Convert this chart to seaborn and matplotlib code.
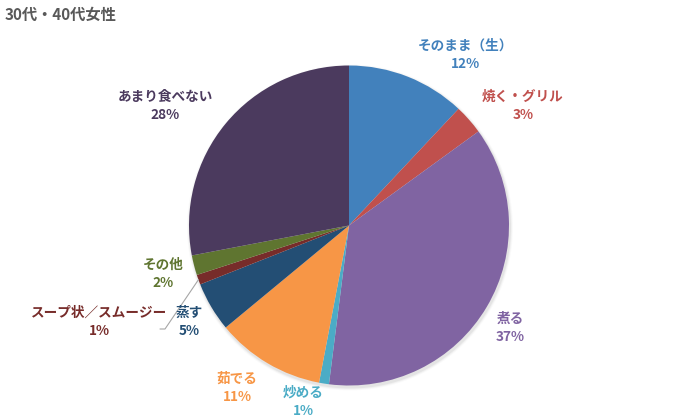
import numpy as np
import matplotlib
matplotlib.use("Agg")
import matplotlib.pyplot as plt
import seaborn as sns

# ---- data ----
categories = ["そのまま（生）", "焼く・グリル", "煮る", "炒める", "茹でる", "蒸す",
              "スープ状／スムージー", "その他", "あまり食べない"]
values = [12, 3, 37, 1, 11, 5, 1, 2, 28]
title = "30代・40代女性"

# ---- styles / layout ----
sns.set_theme(style="white")
plt.rcParams['font.family'] = ['Noto Sans CJK JP', 'DejaVu Sans']
colors = sns.color_palette(["#4281BC", "#C0504D", "#8064A2", "#4BACC6", "#F79646",
                            "#234E74", "#772C2A", "#5F7530", "#4B3A5E"])
text_colors = colors
# label centres in pixel coordinates (x, y from top)
label_pos = [(465, 55), (523, 106), (510, 328), (303, 402), (237, 388),
             (189, 322), (99, 322), (163, 274), (165, 106)]

W, H = 700, 420
fig = plt.figure(figsize=(7, 4.2), dpi=100)
ax = fig.add_axes([0, 0, 1, 1])
ax.set_xlim(0, W)
ax.set_ylim(0, H)
ax.set_aspect('equal')
ax.axis('off')

cx, cy, R = 349, H - 225.5, 160

# subtle shadow
for i, a in enumerate([0.05, 0.035, 0.02]):
    ax.add_patch(plt.Circle((cx + 1, cy - 2), R + 1 + i, color='black', alpha=a, lw=0, zorder=0))

wedges, _ = ax.pie(values, colors=colors, startangle=90, counterclock=False,
                   center=(cx, cy), radius=R, frame=True,
                   wedgeprops=dict(linewidth=0))
ax.set_xlim(0, W)
ax.set_ylim(0, H)
ax.axis('off')

for i, (name, v) in enumerate(zip(categories, values)):
    x, y = label_pos[i]
    ax.text(x, H - y, f"{name}\n{v}%", ha='center', va='center', fontsize=9.8,
            fontweight='bold', color=text_colors[i], linespacing=1.35, zorder=5)

# leader line for the small スープ slice
w = wedges[6]
mid = np.deg2rad((w.theta1 + w.theta2) / 2)
px, py = cx + R * np.cos(mid), cy + R * np.sin(mid)
ax.plot([px, 165, 160], [py, H - 329, H - 329], color='#A6A6A6', lw=0.8, zorder=4)

fig.text(5 / W, 1 - 15 / H, title, ha='left', va='center', fontsize=11,
         fontweight='bold', color='#595959')

fig.savefig("out.png", dpi=100)
